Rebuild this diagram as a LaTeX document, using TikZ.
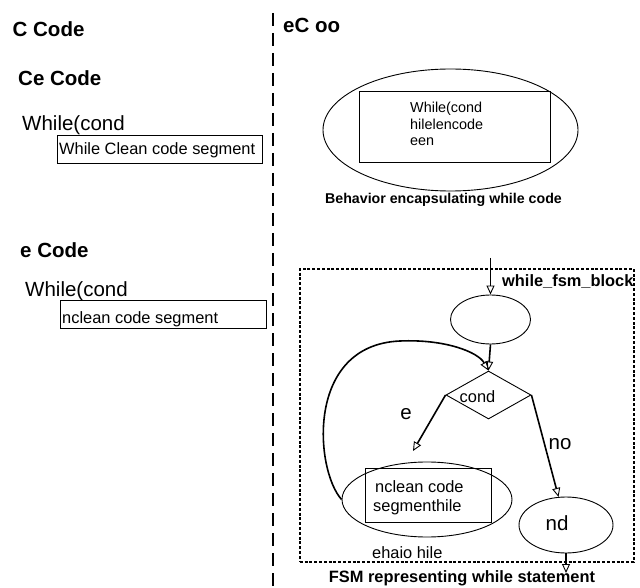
\documentclass[tikz,border=0pt]{standalone}
\usepackage{fontspec}
\setmainfont{Liberation Sans}
\usetikzlibrary{shapes.geometric,arrows.meta}
\begin{document}
\begin{tikzpicture}[x=1pt,y=-1pt,
  title/.style={font=\fontsize{20.5}{24}\selectfont\bfseries, anchor=base west, inner sep=0},
  big/.style={font=\fontsize{20.5}{24}\selectfont, inner sep=0},
  small/.style={font=\fontsize{16.4}{19}\selectfont, inner sep=0},
  tiny/.style={font=\fontsize{14.4}{17}\selectfont, inner sep=0, anchor=base west},
  capt/.style={font=\fontsize{16.4}{19}\selectfont\bfseries, inner sep=0},
  boxed/.style={draw, line width=0.9pt, inner sep=0, anchor=north west},
  oval/.style={draw, ellipse, line width=0.9pt, inner sep=0},
  conn/.style={line width=1.6pt, -{Triangle[open,length=9pt,width=8pt,line width=0.9pt]}},
]
\useasboundingbox (0,0) rectangle (640,588);

% divider
\coordinate (divtop) at (273,13);
\coordinate (divbot) at (273,588);
\draw[line width=1.1pt, dash pattern=on 13pt off 7pt] (divtop) -- (divbot);

% left side
\node[title] (t1) at (12.5,37) {C Code};
\node[title] (t2) at (18,86) {Ce Code};
\node[big, anchor=base west] (w1) at (22,131) {While(cond};
\node[boxed, minimum width=205pt, minimum height=28pt] (b1) at (57,135) {};
\node[small, anchor=base west] (b1t) at (59,155) {While Clean code segment};

\node[title] (t3) at (20,258) {e Code};
\node[big, anchor=base west] (w2) at (25,296) {While(cond};
\node[boxed, minimum width=206pt, minimum height=28pt] (b2) at (60,300) {};
\node[small, anchor=base west] (b2t) at (62,323) {nclean code segment};

% right side top
\node[title] (t4) at (283,33) {eC oo};
\node[oval, minimum width=255pt, minimum height=122pt] (beh) at (450.5,130) {};
\node[boxed, minimum width=191pt, minimum height=71pt] (behbox) at (359,91) {};
\node[tiny] (l1) at (410,113) {While(cond};
\node[tiny] (l2) at (410,130) {hilelencode};
\node[tiny] (l3) at (410,146) {een};
\node[font=\fontsize{14.2}{17}\selectfont\bfseries, inner sep=0] (behcap) at (443.5,200) {Behavior encapsulating while code};

% FSM
\node[draw, line width=1.5pt, dash pattern=on 3pt off 1.8pt, inner sep=0, anchor=north west,
      minimum width=334pt, minimum height=293pt] (fsm) at (299,268) {};
\node[capt, anchor=base west] (fsmname) at (502,286) {while\_fsm\_block};
\coordinate (entry) at (490.5,258);
\node[oval, minimum width=80pt, minimum height=49pt] (top) at (490.5,319.5) {};
\node[draw, diamond, line width=0.9pt, inner sep=0, minimum width=85pt, minimum height=48pt] (cond) at (488.5,395) {};
\node[small] (condt) at (477.5,397) {cond};
\node[oval, minimum width=170pt, minimum height=75pt] (loop) at (427,499.5) {};
\node[boxed, minimum width=126pt, minimum height=54pt] (loopbox) at (365,468) {};
\node[small, anchor=base west] (lt1) at (375,492) {nclean code};
\node[small, anchor=base west] (lt2) at (373,511) {segmenthile};
\node[oval, minimum width=94pt, minimum height=56pt] (nd) at (566,525) {};
\node[big] (ndt) at (557,523) {nd};
\coordinate (etip) at (413,451);
\coordinate (exit) at (566,573);
\node[big] (elab) at (406,414) {e};
\node[big] (nolab) at (560,444) {no};
\node[small, anchor=base west] (behname) at (372,558) {ehaio hile};
\node[capt] (fsmcap) at (462,578) {FSM representing while statement};

\draw[conn] (entry) -- (top.north);
\draw[conn] (top.south) -- (cond.north);
\draw[conn] (cond.west) -- (etip);
\draw[conn] (cond.east) -- (nd);
\draw[conn] (nd.south) -- (exit);
\draw[conn] (loop.west) .. controls (315,470) and (305,345) .. (400,341)
  .. controls (445,339) and (478,352) .. (cond.north);
\end{tikzpicture}
\end{document}
